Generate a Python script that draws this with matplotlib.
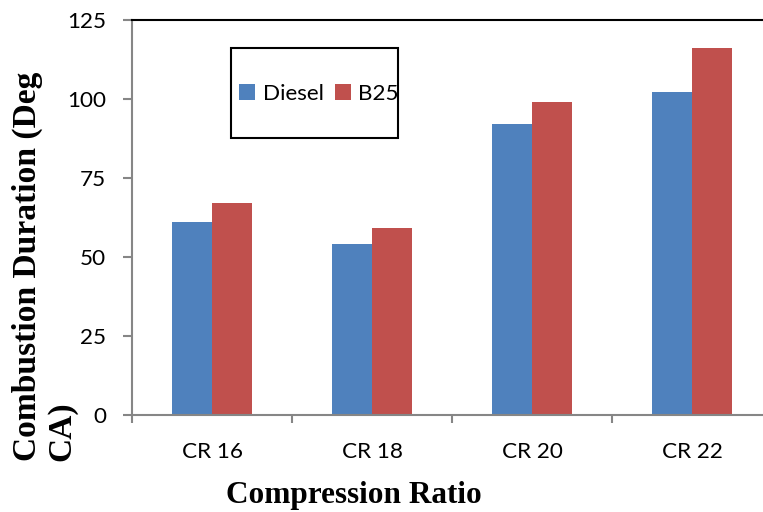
import numpy as np
import matplotlib.pyplot as plt
from matplotlib.patches import Rectangle

# Combustion duration for each compression ratio
ratios = ['CR 16', 'CR 18', 'CR 20', 'CR 22']
diesel = [61, 54, 92, 102]
b25 = [67, 59, 99, 116]
yticks = [0, 25, 50, 75, 100, 125]

W, H = 763, 512
fig = plt.figure(figsize=(W / 100, H / 100), dpi=100)

# plot area runs a little past the right edge of the figure
ax = fig.add_axes([132 / W, (H - 415) / H, 640 / W, 395.5 / H])

x = np.arange(len(ratios))
bw = 0.25
ax.bar(x - bw / 2, diesel, bw, color='#4F81BD', label='Diesel', zorder=2)
ax.bar(x + bw / 2, b25, bw, color='#C0504D', label='B25', zorder=2)

ax.set_xlim(-0.5, len(ratios) - 0.5)
ax.set_ylim(0, 125)
ax.set_yticks(yticks)
ax.set_yticklabels([str(v) for v in yticks], fontfamily='Lato', fontsize=16.2)

# category boundaries get the tick marks, centres get the labels
ax.set_xticks(np.arange(len(ratios) + 1) - 0.5)
ax.set_xticklabels([])
ax.set_xticks(x, minor=True)
ax.set_xticklabels(ratios, minor=True, fontfamily='Lato', fontsize=16.2)
ax.tick_params(axis='x', which='major', direction='out', length=6,
               width=1.5, color='#868686')
ax.tick_params(axis='x', which='minor', length=0, pad=19.5)
ax.tick_params(axis='y', direction='out', length=6.5, width=1.5,
               color='#868686', pad=12)

for side in ['left', 'bottom']:
    ax.spines[side].set_color('#868686')
    ax.spines[side].set_linewidth(1.5)
ax.spines['top'].set_color('black')
ax.spines['top'].set_linewidth(1.5)
ax.spines['right'].set_visible(False)

# legend inside its own box
box = Rectangle((231 / W, (H - 138) / H), 167 / W, 90 / H,
                transform=fig.transFigure, fill=False, edgecolor='black',
                linewidth=1.5)
fig.patches.append(box)
fig.legend(loc='center', bbox_to_anchor=((231 + 88) / W, (H - 94) / H),
           ncol=2, frameon=False, handlelength=0.7, handleheight=0.7,
           handletextpad=0.35, columnspacing=0.5,
           prop={'family': 'Lato', 'size': 16.2})

fig.text(354 / W, (H - 503) / H, 'Compression Ratio', ha='center',
         va='baseline', fontfamily='Liberation Serif', fontweight='bold',
         fontsize=22.5)

# y label wraps onto a second line, both lines start at the same height
ylab = dict(rotation=90, ha='center', va='bottom',
            fontfamily='Liberation Serif', fontweight='bold', fontsize=24.1)
fig.text(27 / W, (H - 461) / H, 'Combustion Duration (Deg', **ylab)
fig.text(62 / W, (H - 461) / H, 'CA)', **ylab)

fig.savefig('out.png', dpi=100)
